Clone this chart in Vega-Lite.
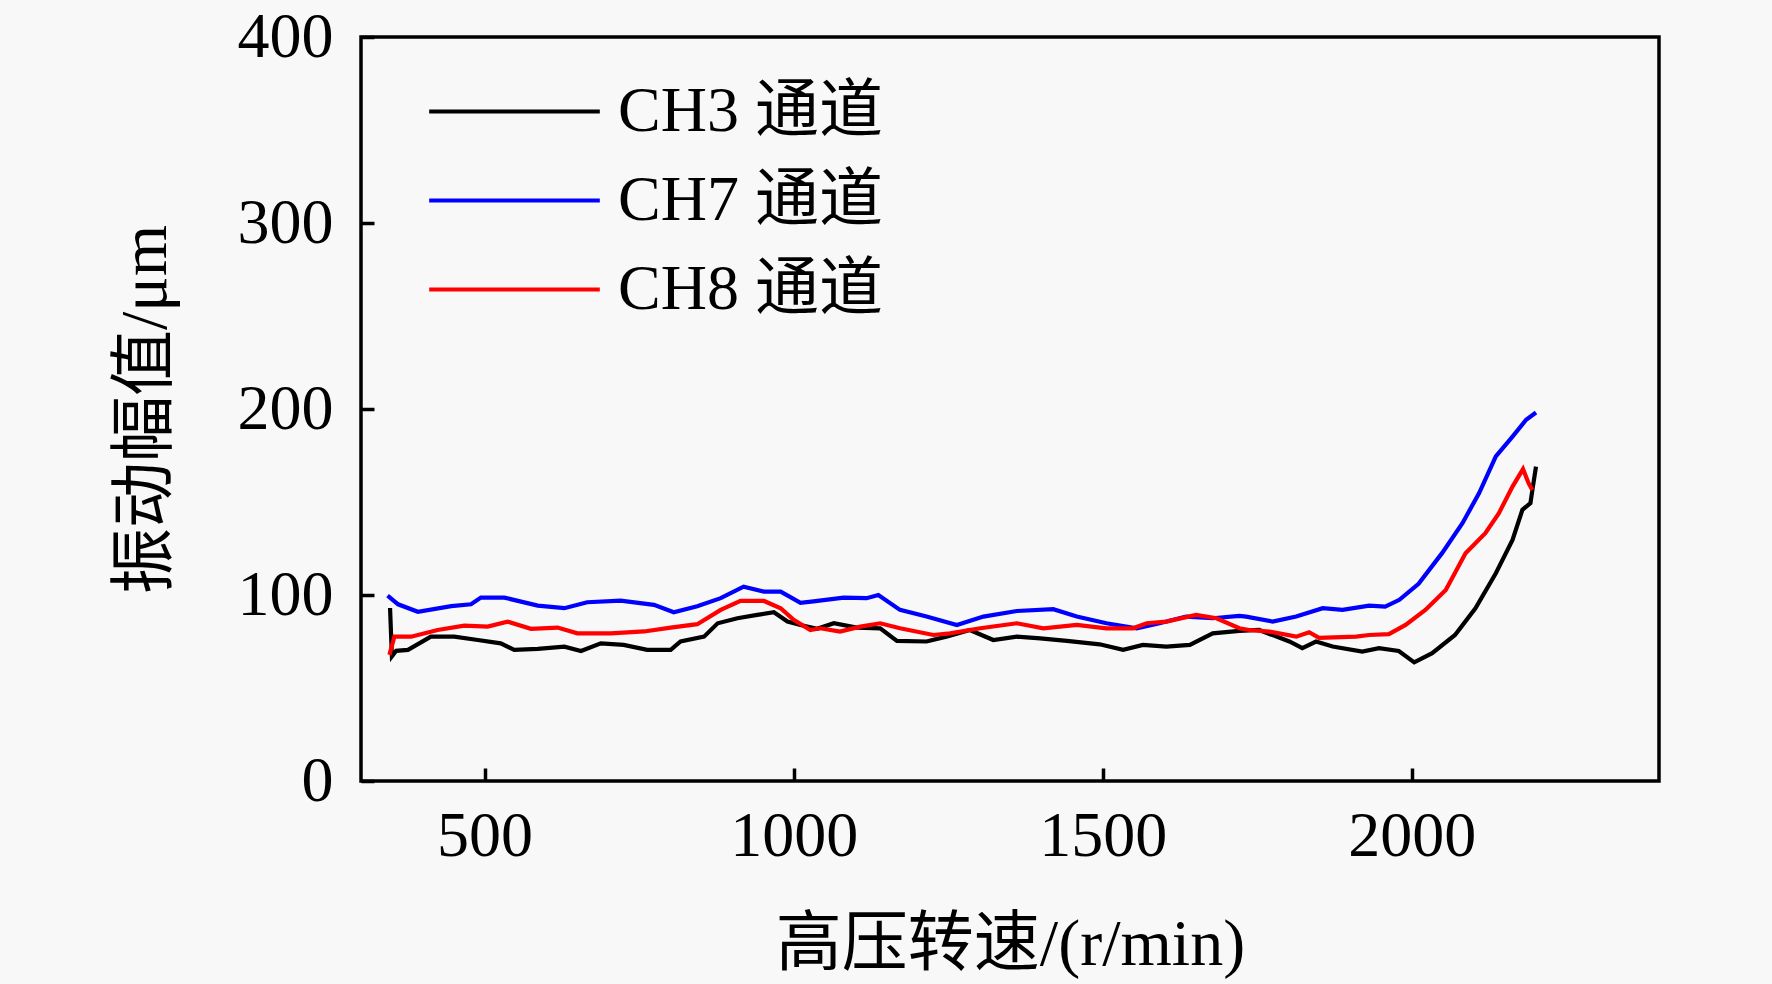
{
  "$schema": "https://vega.github.io/schema/vega-lite/v6.json",
  "width": 1298,
  "height": 744,
  "autosize": {"type": "none"},
  "padding": {"left": 361, "top": 37, "right": 113, "bottom": 203},
  "background": "#f8f8f8",
  "data": {
    "values": [
      {"ch": "CH3 通道", "rpm": 347, "amp": 93},
      {"ch": "CH3 通道", "rpm": 350, "amp": 67},
      {"ch": "CH3 通道", "rpm": 357, "amp": 70},
      {"ch": "CH3 通道", "rpm": 376, "amp": 70.5},
      {"ch": "CH3 通道", "rpm": 413, "amp": 77.6},
      {"ch": "CH3 通道", "rpm": 451, "amp": 77.6},
      {"ch": "CH3 通道", "rpm": 489, "amp": 75.8},
      {"ch": "CH3 通道", "rpm": 526, "amp": 74},
      {"ch": "CH3 通道", "rpm": 548, "amp": 70.5},
      {"ch": "CH3 通道", "rpm": 586, "amp": 71},
      {"ch": "CH3 通道", "rpm": 629, "amp": 72.2},
      {"ch": "CH3 通道", "rpm": 656, "amp": 69.9},
      {"ch": "CH3 通道", "rpm": 688, "amp": 74},
      {"ch": "CH3 通道", "rpm": 725, "amp": 73.2},
      {"ch": "CH3 通道", "rpm": 763, "amp": 70.5},
      {"ch": "CH3 通道", "rpm": 801, "amp": 70.5},
      {"ch": "CH3 通道", "rpm": 817, "amp": 75},
      {"ch": "CH3 通道", "rpm": 855, "amp": 77.6},
      {"ch": "CH3 通道", "rpm": 877, "amp": 84.8},
      {"ch": "CH3 通道", "rpm": 909, "amp": 87.5},
      {"ch": "CH3 通道", "rpm": 941, "amp": 89.3},
      {"ch": "CH3 通道", "rpm": 968, "amp": 90.7},
      {"ch": "CH3 通道", "rpm": 990, "amp": 85.7},
      {"ch": "CH3 通道", "rpm": 1011, "amp": 83.9},
      {"ch": "CH3 通道", "rpm": 1038, "amp": 81.8},
      {"ch": "CH3 通道", "rpm": 1065, "amp": 84.8},
      {"ch": "CH3 通道", "rpm": 1102, "amp": 82.5},
      {"ch": "CH3 通道", "rpm": 1140, "amp": 82.1},
      {"ch": "CH3 通道", "rpm": 1167, "amp": 75.3},
      {"ch": "CH3 通道", "rpm": 1215, "amp": 75},
      {"ch": "CH3 通道", "rpm": 1247, "amp": 77.6},
      {"ch": "CH3 通道", "rpm": 1285, "amp": 81.2},
      {"ch": "CH3 通道", "rpm": 1323, "amp": 75.8},
      {"ch": "CH3 通道", "rpm": 1361, "amp": 77.6},
      {"ch": "CH3 通道", "rpm": 1399, "amp": 76.7},
      {"ch": "CH3 通道", "rpm": 1442, "amp": 75.3},
      {"ch": "CH3 通道", "rpm": 1495, "amp": 73.5},
      {"ch": "CH3 通道", "rpm": 1533, "amp": 70.5},
      {"ch": "CH3 通道", "rpm": 1565, "amp": 73.2},
      {"ch": "CH3 通道", "rpm": 1603, "amp": 72.3},
      {"ch": "CH3 通道", "rpm": 1641, "amp": 73.2},
      {"ch": "CH3 通道", "rpm": 1678, "amp": 79.4},
      {"ch": "CH3 通道", "rpm": 1721, "amp": 80.7},
      {"ch": "CH3 通道", "rpm": 1753, "amp": 81.2},
      {"ch": "CH3 通道", "rpm": 1802, "amp": 75},
      {"ch": "CH3 通道", "rpm": 1823, "amp": 71.4},
      {"ch": "CH3 通道", "rpm": 1845, "amp": 75},
      {"ch": "CH3 通道", "rpm": 1872, "amp": 72.3},
      {"ch": "CH3 通道", "rpm": 1920, "amp": 69.6},
      {"ch": "CH3 通道", "rpm": 1947, "amp": 71.4},
      {"ch": "CH3 通道", "rpm": 1979, "amp": 69.9},
      {"ch": "CH3 通道", "rpm": 2004, "amp": 63.8},
      {"ch": "CH3 通道", "rpm": 2033, "amp": 68.7},
      {"ch": "CH3 通道", "rpm": 2070, "amp": 78.5},
      {"ch": "CH3 通道", "rpm": 2103, "amp": 92.9},
      {"ch": "CH3 通道", "rpm": 2136, "amp": 111.7},
      {"ch": "CH3 通道", "rpm": 2163, "amp": 129.6},
      {"ch": "CH3 通道", "rpm": 2179, "amp": 145.8},
      {"ch": "CH3 通道", "rpm": 2192, "amp": 149.4},
      {"ch": "CH3 通道", "rpm": 2196, "amp": 158.3},
      {"ch": "CH3 通道", "rpm": 2201, "amp": 169},
      {"ch": "CH7 通道", "rpm": 343, "amp": 99.7},
      {"ch": "CH7 通道", "rpm": 360, "amp": 95},
      {"ch": "CH7 通道", "rpm": 392, "amp": 91},
      {"ch": "CH7 通道", "rpm": 446, "amp": 94},
      {"ch": "CH7 通道", "rpm": 478, "amp": 95},
      {"ch": "CH7 通道", "rpm": 494, "amp": 98.6},
      {"ch": "CH7 通道", "rpm": 532, "amp": 98.6},
      {"ch": "CH7 通道", "rpm": 586, "amp": 94.3},
      {"ch": "CH7 通道", "rpm": 629, "amp": 92.9},
      {"ch": "CH7 通道", "rpm": 666, "amp": 96.1},
      {"ch": "CH7 通道", "rpm": 720, "amp": 97},
      {"ch": "CH7 通道", "rpm": 774, "amp": 94.7},
      {"ch": "CH7 通道", "rpm": 806, "amp": 90.7},
      {"ch": "CH7 通道", "rpm": 844, "amp": 94},
      {"ch": "CH7 通道", "rpm": 882, "amp": 98.3},
      {"ch": "CH7 通道", "rpm": 919, "amp": 104.5},
      {"ch": "CH7 通道", "rpm": 952, "amp": 101.8},
      {"ch": "CH7 通道", "rpm": 979, "amp": 101.8},
      {"ch": "CH7 通道", "rpm": 1011, "amp": 95.8},
      {"ch": "CH7 通道", "rpm": 1032, "amp": 96.6},
      {"ch": "CH7 通道", "rpm": 1081, "amp": 98.6},
      {"ch": "CH7 通道", "rpm": 1118, "amp": 98.3},
      {"ch": "CH7 通道", "rpm": 1137, "amp": 100},
      {"ch": "CH7 通道", "rpm": 1172, "amp": 92},
      {"ch": "CH7 通道", "rpm": 1215, "amp": 88.4},
      {"ch": "CH7 通道", "rpm": 1264, "amp": 83.9},
      {"ch": "CH7 通道", "rpm": 1307, "amp": 88.4},
      {"ch": "CH7 通道", "rpm": 1361, "amp": 91.4},
      {"ch": "CH7 通道", "rpm": 1420, "amp": 92.4},
      {"ch": "CH7 通道", "rpm": 1458, "amp": 88.4},
      {"ch": "CH7 通道", "rpm": 1506, "amp": 84.8},
      {"ch": "CH7 通道", "rpm": 1555, "amp": 82.1},
      {"ch": "CH7 通道", "rpm": 1592, "amp": 84.8},
      {"ch": "CH7 通道", "rpm": 1635, "amp": 88.4},
      {"ch": "CH7 通道", "rpm": 1678, "amp": 87.5},
      {"ch": "CH7 通道", "rpm": 1721, "amp": 88.8},
      {"ch": "CH7 通道", "rpm": 1732, "amp": 88.4},
      {"ch": "CH7 通道", "rpm": 1775, "amp": 85.7},
      {"ch": "CH7 通道", "rpm": 1813, "amp": 88.4},
      {"ch": "CH7 通道", "rpm": 1856, "amp": 92.9},
      {"ch": "CH7 通道", "rpm": 1888, "amp": 92},
      {"ch": "CH7 通道", "rpm": 1931, "amp": 94.3},
      {"ch": "CH7 通道", "rpm": 1957, "amp": 93.8},
      {"ch": "CH7 通道", "rpm": 1980, "amp": 97.4},
      {"ch": "CH7 通道", "rpm": 2011, "amp": 106},
      {"ch": "CH7 通道", "rpm": 2049, "amp": 122.5},
      {"ch": "CH7 通道", "rpm": 2082, "amp": 138.6},
      {"ch": "CH7 通道", "rpm": 2109, "amp": 154.8},
      {"ch": "CH7 通道", "rpm": 2136, "amp": 174.5},
      {"ch": "CH7 通道", "rpm": 2163, "amp": 185.2},
      {"ch": "CH7 通道", "rpm": 2185, "amp": 194.2},
      {"ch": "CH7 通道", "rpm": 2201, "amp": 198.1},
      {"ch": "CH8 通道", "rpm": 346, "amp": 67.8},
      {"ch": "CH8 通道", "rpm": 354, "amp": 77.6},
      {"ch": "CH8 通道", "rpm": 381, "amp": 77.6},
      {"ch": "CH8 通道", "rpm": 424, "amp": 81.2},
      {"ch": "CH8 通道", "rpm": 467, "amp": 83.5},
      {"ch": "CH8 通道", "rpm": 505, "amp": 83},
      {"ch": "CH8 通道", "rpm": 537, "amp": 85.7},
      {"ch": "CH8 通道", "rpm": 575, "amp": 81.8},
      {"ch": "CH8 通道", "rpm": 618, "amp": 82.5},
      {"ch": "CH8 通道", "rpm": 650, "amp": 79.4},
      {"ch": "CH8 通道", "rpm": 704, "amp": 79.4},
      {"ch": "CH8 通道", "rpm": 758, "amp": 80.4},
      {"ch": "CH8 通道", "rpm": 801, "amp": 82.5},
      {"ch": "CH8 通道", "rpm": 844, "amp": 84.3},
      {"ch": "CH8 通道", "rpm": 882, "amp": 92},
      {"ch": "CH8 通道", "rpm": 914, "amp": 96.8},
      {"ch": "CH8 通道", "rpm": 952, "amp": 96.8},
      {"ch": "CH8 通道", "rpm": 979, "amp": 92.9},
      {"ch": "CH8 通道", "rpm": 1000, "amp": 86.6},
      {"ch": "CH8 通道", "rpm": 1027, "amp": 81.2},
      {"ch": "CH8 通道", "rpm": 1043, "amp": 82.1},
      {"ch": "CH8 通道", "rpm": 1075, "amp": 80.3},
      {"ch": "CH8 通道", "rpm": 1108, "amp": 83},
      {"ch": "CH8 通道", "rpm": 1140, "amp": 84.8},
      {"ch": "CH8 通道", "rpm": 1172, "amp": 82.1},
      {"ch": "CH8 通道", "rpm": 1226, "amp": 78.5},
      {"ch": "CH8 通道", "rpm": 1253, "amp": 79.4},
      {"ch": "CH8 通道", "rpm": 1302, "amp": 82.1},
      {"ch": "CH8 通道", "rpm": 1361, "amp": 84.8},
      {"ch": "CH8 通道", "rpm": 1404, "amp": 82.1},
      {"ch": "CH8 通道", "rpm": 1458, "amp": 83.9},
      {"ch": "CH8 通道", "rpm": 1506, "amp": 82.1},
      {"ch": "CH8 通道", "rpm": 1549, "amp": 82.1},
      {"ch": "CH8 通道", "rpm": 1571, "amp": 84.8},
      {"ch": "CH8 通道", "rpm": 1603, "amp": 85.7},
      {"ch": "CH8 通道", "rpm": 1651, "amp": 89.3},
      {"ch": "CH8 通道", "rpm": 1684, "amp": 87.5},
      {"ch": "CH8 通道", "rpm": 1721, "amp": 82.1},
      {"ch": "CH8 通道", "rpm": 1737, "amp": 81.2},
      {"ch": "CH8 通道", "rpm": 1770, "amp": 80.3},
      {"ch": "CH8 通道", "rpm": 1813, "amp": 77.6},
      {"ch": "CH8 通道", "rpm": 1834, "amp": 80},
      {"ch": "CH8 通道", "rpm": 1850, "amp": 77},
      {"ch": "CH8 通道", "rpm": 1910, "amp": 77.6},
      {"ch": "CH8 通道", "rpm": 1931, "amp": 78.5},
      {"ch": "CH8 通道", "rpm": 1963, "amp": 79},
      {"ch": "CH8 通道", "rpm": 1990, "amp": 83.9},
      {"ch": "CH8 通道", "rpm": 2022, "amp": 92},
      {"ch": "CH8 通道", "rpm": 2055, "amp": 102.7},
      {"ch": "CH8 通道", "rpm": 2087, "amp": 122.5},
      {"ch": "CH8 通道", "rpm": 2119, "amp": 133.2},
      {"ch": "CH8 通道", "rpm": 2141, "amp": 144},
      {"ch": "CH8 通道", "rpm": 2163, "amp": 158.3},
      {"ch": "CH8 通道", "rpm": 2180, "amp": 167.7},
      {"ch": "CH8 通道", "rpm": 2189, "amp": 160.1},
      {"ch": "CH8 通道", "rpm": 2195, "amp": 156.5}
    ]
  },
  "mark": {"type": "line", "strokeWidth": 4.2},
  "encoding": {
    "x": {
      "field": "rpm",
      "type": "quantitative",
      "scale": {"domain": [300, 2400], "nice": false, "zero": false},
      "axis": {
        "title": "高压转速/(r/min)",
        "values": [500, 1000, 1500, 2000],
        "format": "d",
        "labelPadding": 36,
        "titleBaseline": "middle",
        "titleX": 649,
        "titleY": 163
      }
    },
    "y": {
      "field": "amp",
      "type": "quantitative",
      "scale": {"domain": [0, 400], "nice": false},
      "axis": {
        "title": "振动幅值/μm",
        "values": [0, 100, 200, 300, 400],
        "format": "d",
        "labelPadding": 41,
        "titleAngle": -90,
        "titleBaseline": "middle",
        "titleX": -216,
        "titleY": 372
      }
    },
    "color": {
      "field": "ch",
      "type": "nominal",
      "scale": {
        "domain": ["CH3 通道", "CH7 通道", "CH8 通道"],
        "range": ["#000000", "#0000ff", "#ff0000"]
      },
      "legend": {
        "title": null,
        "orient": "none",
        "legendX": 97,
        "legendY": 18,
        "symbolType": "M-1.58,0L1.58,0",
        "symbolSize": 11664,
        "symbolStrokeWidth": 4.2,
        "labelOffset": 47,
        "rowPadding": 0,
        "padding": 0
      }
    }
  },
  "config": {
    "font": "Liberation Serif, Noto Sans CJK SC",
    "view": {"stroke": "#000000", "strokeWidth": 3.5, "fill": "#f8f8f8"},
    "axis": {
      "grid": false,
      "domain": false,
      "tickColor": "#000000",
      "tickWidth": 3.5,
      "tickSize": -13,
      "labelFont": "Liberation Serif",
      "labelFontSize": 64,
      "labelColor": "#000000",
      "titleFont": "Liberation Serif, Noto Sans CJK SC",
      "titleFontSize": 66,
      "titleFontWeight": "normal",
      "titleColor": "#000000"
    },
    "legend": {
      "labelFont": "Liberation Serif, Noto Sans CJK SC",
      "labelFontSize": 64,
      "labelColor": "#000000",
      "labelLimit": 0
    }
  }
}
